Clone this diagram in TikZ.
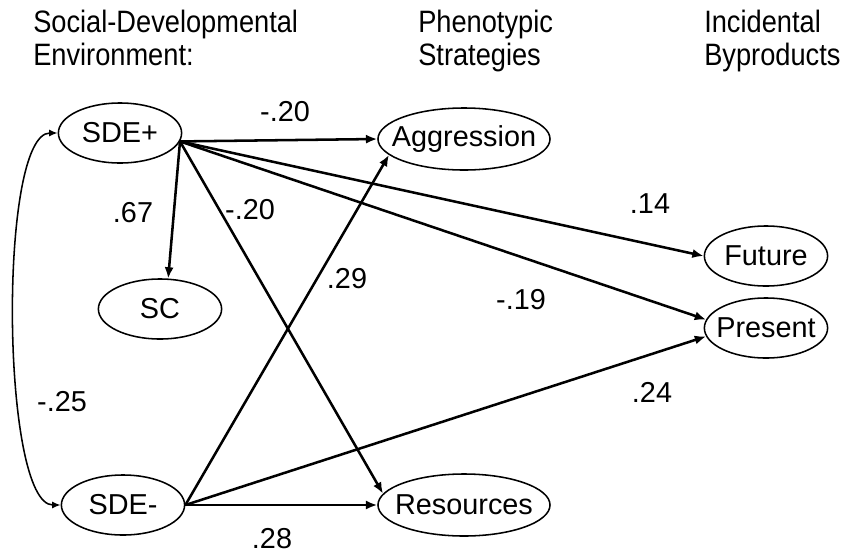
\documentclass[tikz,border=0pt]{standalone}
\usepackage{fontspec}
\setmainfont{Liberation Sans}
\newfontfamily\headfont[FakeStretch=0.88]{Liberation Sans}
\usetikzlibrary{shapes.geometric, arrows.meta, positioning}

\tikzset{
  latent/.style={ellipse, draw, line width=1.1pt, inner sep=0pt,
    minimum width=3.08cm, minimum height=1.5cm},
  widelatent/.style={latent, minimum width=4.3cm, minimum height=1.55cm},
  effect/.style={line width=1.8pt, -{Latex[length=8pt,width=6.5pt]}},
  heading/.style={anchor=north west, align=left, inner sep=0pt,
    font=\headfont\fontsize{22}{23.5}\selectfont}
}

\begin{document}
\begin{tikzpicture}[x=0.025cm, y=-0.025cm, font=\fontsize{20.5}{24}\selectfont]
\useasboundingbox (0,0) rectangle (844,554);

% column headings
\node[heading] (hsde) at (33,10) {Social-Developmental\\Environment:};
\node[heading] (hphen) at (418,10) {Phenotypic\\Strategies};
\node[heading] (hinc) at (704,10) {Incidental\\Byproducts};

% latent variables
\node[latent, label=center:SDE+] (sdep) at (120,133) {};
\node[latent, label=center:SC] (sc) at (160,309) {};
\node[latent, label=center:SDE-] (sdem) at (123,505) {};
\node[widelatent, label=center:Aggression] (agg) at (464,139) {};
\node[widelatent, label=center:Resources] (res) at (464,505) {};
\node[latent, label=center:Future] (fut) at (766,256) {};
\node[latent, label=center:Present] (pre) at (766,328) {};

% paths from SDE+
\draw[effect] (sdep.-8) -- (agg.west);
\draw[effect] (sdep.-8) -- (sc.75);
\draw[effect] (sdep.-8) -- (res.172);
\draw[effect] (sdep.-8) -- (fut.west);
\draw[effect] (sdep.-8) -- (pre.172);

% paths from SDE-
\draw[effect] (sdem.east) -- (agg.192);
\draw[effect] (sdem.east) -- (res.west);
\draw[effect] (sdem.east) -- (pre.188);

% correlation
\draw[line width=1.1pt, {Latex[length=6pt,width=5pt]}-{Latex[length=6pt,width=5pt]}]
  (sdep.west) to[out=180, in=180, looseness=0.41] (sdem.west);

% coefficients
\node (cagg) at (285,112) {-.20};
\node (csc) at (133,213) {.67};
\node (cres) at (250,210) {-.20};
\node (cagg2) at (347,279) {.29};
\node (cfut) at (650,204) {.14};
\node (cpre) at (521,300) {-.19};
\node (cpre2) at (652,392) {.24};
\node (ccor) at (62,402) {-.25};
\node (cres2) at (272,539) {.28};
\end{tikzpicture}
\end{document}
